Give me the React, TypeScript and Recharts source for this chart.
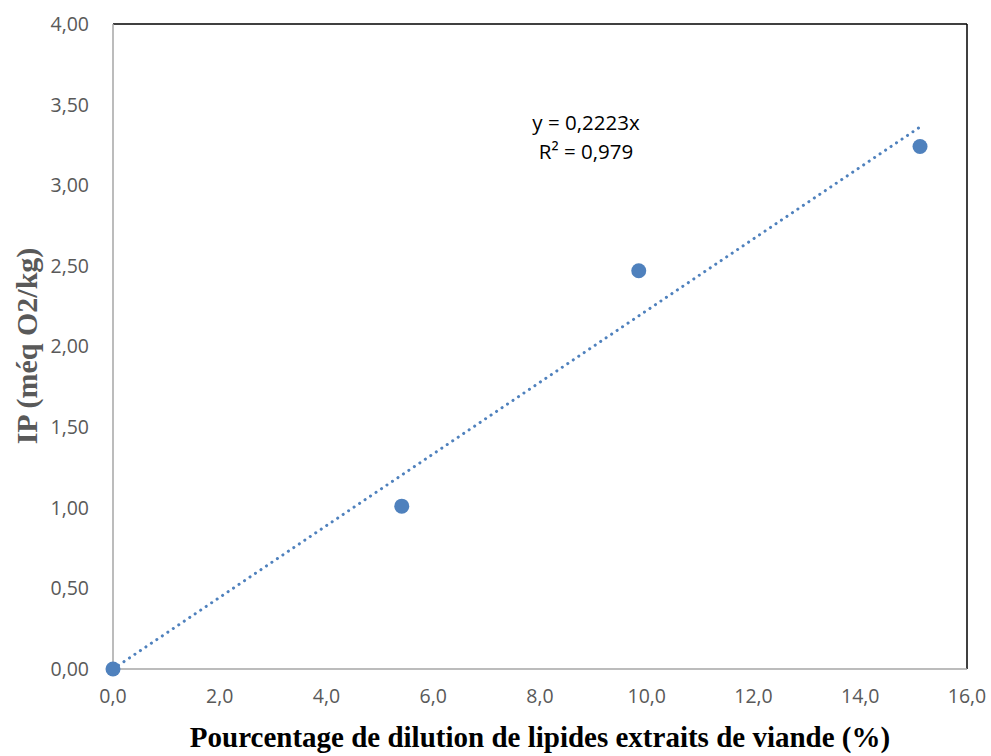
import React from "react";
import { ScatterChart, Scatter, XAxis, YAxis, ReferenceLine } from "recharts";

// mesures
const dilution = [0, 5.41, 9.85, 15.12];
const ip = [0, 1.01, 2.47, 3.24];

// courbe de tendance y = 0,2223x
const slope = 0.2223;
const trendX = [0, 15.1];

const xTicks = [0, 2, 4, 6, 8, 10, 12, 14, 16];
const yTicks = [0, 0.5, 1, 1.5, 2, 2.5, 3, 3.5, 4];

const points = dilution.map((x, i) => ({ x, y: ip[i] }));
const trend = trendX.map((x) => ({ x, y: slope * x }));

const blue = "#4f81bd";
const tickFont = { fontFamily: "Open Sans", fontSize: 19.5, fill: "#595959" };

const Dot = (props: any) => <circle cx={props.cx} cy={props.cy} r={7.5} fill={blue} />;

export default function App() {
  return (
    <div style={{ position: "absolute", left: 0, top: 0, width: 991, height: 756, background: "#fff" }}>
      <ScatterChart width={991} height={756} margin={{ top: 24, right: 24, left: 53, bottom: 47 }}>
        <XAxis
          type="number"
          dataKey="x"
          domain={[0, 16]}
          ticks={xTicks}
          tickFormatter={(v) => v.toFixed(1).replace(".", ",")}
          tick={tickFont}
          tickLine={false}
          tickSize={0}
          tickMargin={20}
          height={40}
          stroke="#a6a6a6"
          strokeWidth={1.5}
        />
        <YAxis
          type="number"
          dataKey="y"
          domain={[0, 4]}
          ticks={yTicks}
          tickFormatter={(v) => v.toFixed(2).replace(".", ",")}
          tick={tickFont}
          tickLine={false}
          tickSize={0}
          tickMargin={24}
          width={60}
          stroke="#a6a6a6"
          strokeWidth={1.5}
        />
        <ReferenceLine y={4} stroke="#000" strokeWidth={1.5} />
        <ReferenceLine x={16} stroke="#000" strokeWidth={1.5} />
        <Scatter
          data={trend}
          line={{ stroke: blue, strokeWidth: 3, strokeDasharray: "0.1 6.5", strokeLinecap: "round" }}
          shape={() => <g />}
          isAnimationActive={false}
        />
        <Scatter data={points} shape={Dot} isAnimationActive={false} />
      </ScatterChart>
      <div
        style={{
          position: "absolute",
          left: 486,
          top: 108,
          width: 200,
          textAlign: "center",
          fontFamily: "Open Sans",
          fontSize: 20.5,
          lineHeight: "29px",
          color: "#000",
        }}
      >
        <div>y = 0,2223x</div>
        <div>R² = 0,979</div>
      </div>
      <div
        style={{
          position: "absolute",
          left: 0,
          width: 1080,
          top: 721,
          textAlign: "center",
          fontFamily: "Liberation Serif",
          fontWeight: "bold",
          fontSize: 29,
          color: "#000",
        }}
      >
        Pourcentage de dilution de lipides extraits de viande (%)
      </div>
      <div
        style={{
          position: "absolute",
          left: 27,
          top: 346,
          transform: "translate(-50%, -50%) rotate(-90deg)",
          whiteSpace: "nowrap",
          fontFamily: "Liberation Serif",
          fontWeight: "bold",
          fontSize: 30,
          color: "#595959",
        }}
      >
        IP (méq O2/kg)
      </div>
    </div>
  );
}
